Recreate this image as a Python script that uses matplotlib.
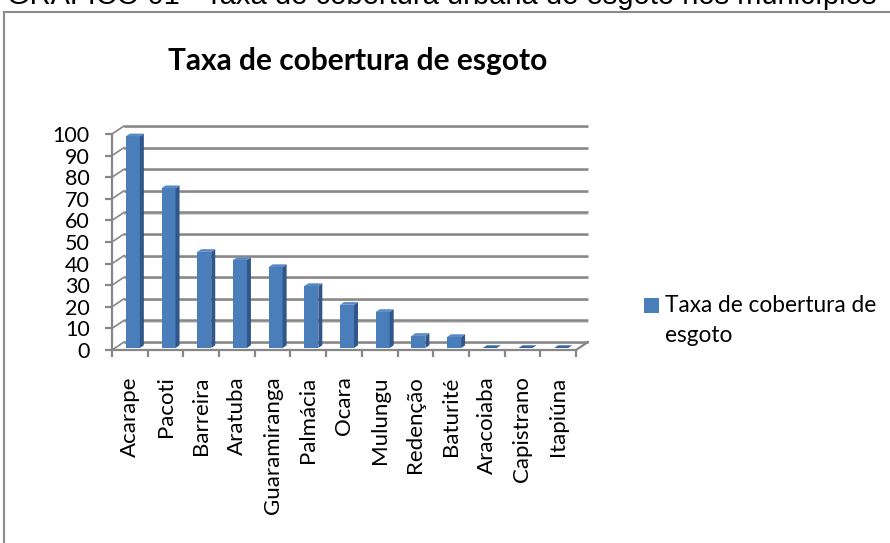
import matplotlib
matplotlib.use("Agg")
import matplotlib.pyplot as plt
from matplotlib.lines import Line2D
from matplotlib.patches import Rectangle

# data
municipios = ["Acarape", "Pacoti", "Barreira", "Aratuba", "Guaramiranga",
              "Palmácia", "Ocara", "Mulungu", "Redenção", "Baturité",
              "Aracoiaba", "Capistrano", "Itapiúna"]
cobertura = [98, 74, 44.5, 40.7, 37.5, 28.7, 20, 16.7, 5.6, 5.1, 0, 0, 0]
y_ticks = list(range(0, 101, 10))

titulo = "Taxa de cobertura de esgoto"
legenda_lines = ["Taxa de cobertura de", "esgoto"]
caption = "GRÁFICO 01 - Taxa de cobertura urbana de esgoto nos municípios"

W, H = 890, 543
fig = plt.figure(figsize=(W / 100, H / 100), dpi=100)
fig.patch.set_facecolor("white")

# plot area (front plane) in pixels
x_left, x_right = 112, 576
y_zero, y_top = 350, 134
ax = fig.add_axes([x_left / W, (H - y_zero) / H,
                   (x_right - x_left) / W, (y_zero - y_top) / H])
ax.set_xlim(-0.5, len(municipios) - 0.5)
ax.set_ylim(0, 100)
ax.patch.set_alpha(0)

cat_px = (x_right - x_left) / len(municipios)
val_px = (y_zero - y_top) / 100.0

# depth of the 3d box, in data units
DX = 12 / cat_px
DY = 8 / val_px
grid_c = "#878787"
shadow_c = "#cccccc"

x0b = -0.5 + DX
x1b = len(municipios) - 0.5 + DX
for v in y_ticks:
    # back wall gridline + soft shadow
    ax.plot([x0b, x1b], [v + DY - 0.6, v + DY - 0.6], color=shadow_c, lw=1.3,
            clip_on=False, zorder=1, solid_capstyle="butt")
    ax.plot([x0b, x1b], [v + DY, v + DY], color=grid_c, lw=1.8,
            clip_on=False, zorder=1.1, solid_capstyle="butt")
    # left wall lines
    ax.plot([-0.5, x0b], [v, v + DY], color=grid_c, lw=1.2,
            clip_on=False, zorder=1.1)

# floor right edge
ax.plot([len(municipios) - 0.5, x1b], [0, DY], color=grid_c, lw=1.6,
        clip_on=False, zorder=1.1)

# bars
front_c = "#4A7EBB"
side_c = "#30568A"
top_c = "#5A8AC6"
bx = 3 / cat_px
by = 2 / val_px
bw = 14 / cat_px
ddx = 4 / cat_px
ddy = 2.7 / val_px
for i, h in enumerate(cobertura):
    x0 = i + bx - bw / 2
    x1 = x0 + bw
    y0 = by
    y1 = by + h
    if h > 0:
        ax.fill([x0, x1, x1, x0], [y0, y0, y1, y1], color=front_c,
                lw=0, zorder=3, clip_on=False)
        ax.fill([x1, x1 + ddx, x1 + ddx, x1], [y0, y0 + ddy, y1 + ddy, y1],
                color=side_c, lw=0, zorder=3, clip_on=False)
        ax.fill([x0, x1, x1 + ddx, x0 + ddx], [y1, y1, y1 + ddy, y1 + ddy],
                color=top_c, lw=0, zorder=3, clip_on=False)
    else:
        ax.fill([x0, x1, x1 + ddx, x0 + ddx], [y1, y1, y1 + ddy, y1 + ddy],
                color="#3A659E", lw=0, zorder=3, clip_on=False)

# axes
for s in ["top", "right"]:
    ax.spines[s].set_visible(False)
for s in ["left", "bottom"]:
    ax.spines[s].set_color(grid_c)
    ax.spines[s].set_linewidth(1.6)
ax.spines["left"].set_zorder(1.2)

tick_font = "Lato"
ax.set_yticks(y_ticks)
ax.set_yticklabels([str(v) for v in y_ticks], fontsize=15.5, family=tick_font)
ax.tick_params(axis="y", direction="out", length=5, width=1.6, color=grid_c,
               pad=11)

ax.set_xticks(range(len(municipios)))
ax.set_xticklabels(municipios, rotation=90, fontsize=16, family=tick_font,
                   va="top", ha="center")
ax.set_xticks([i - 0.5 for i in range(len(municipios) + 1)], minor=True)
ax.tick_params(axis="x", which="major", length=0, pad=19)
ax.tick_params(axis="x", which="minor", direction="out", length=5,
               width=1.6, color=grid_c)

# title
fig.text(358 / W, 1 - 61 / H, titulo, ha="center", va="center",
         fontsize=21.5, fontweight="bold", family="Lato")

# legend
fig.add_artist(Rectangle((644 / W, 1 - 313 / H), 15 / W, 15 / H,
                         transform=fig.transFigure, color=front_c, lw=0))
fig.text(665 / W, 1 - 305 / H, legenda_lines[0], ha="left", va="center",
         fontsize=16.3, family="Lato")
fig.text(665 / W, 1 - 336 / H, legenda_lines[1], ha="left", va="center",
         fontsize=16.3, family="Lato")

# chart border (left and top edges inside the page)
fig.add_artist(Line2D([4 / W, 4 / W], [0, 1 - 12 / H],
                      transform=fig.transFigure, color="#8c8c8c", lw=1.5))
fig.add_artist(Line2D([4 / W, 1], [1 - 12 / H, 1 - 12 / H],
                      transform=fig.transFigure, color="#8c8c8c", lw=1.5))

# document caption, cut off at the top of the page like in the source
fig.text(7 / W, 1 - 4 / H, caption, ha="left", va="baseline",
         fontsize=21, family="Liberation Sans")

fig.savefig("out.png", dpi=100)
